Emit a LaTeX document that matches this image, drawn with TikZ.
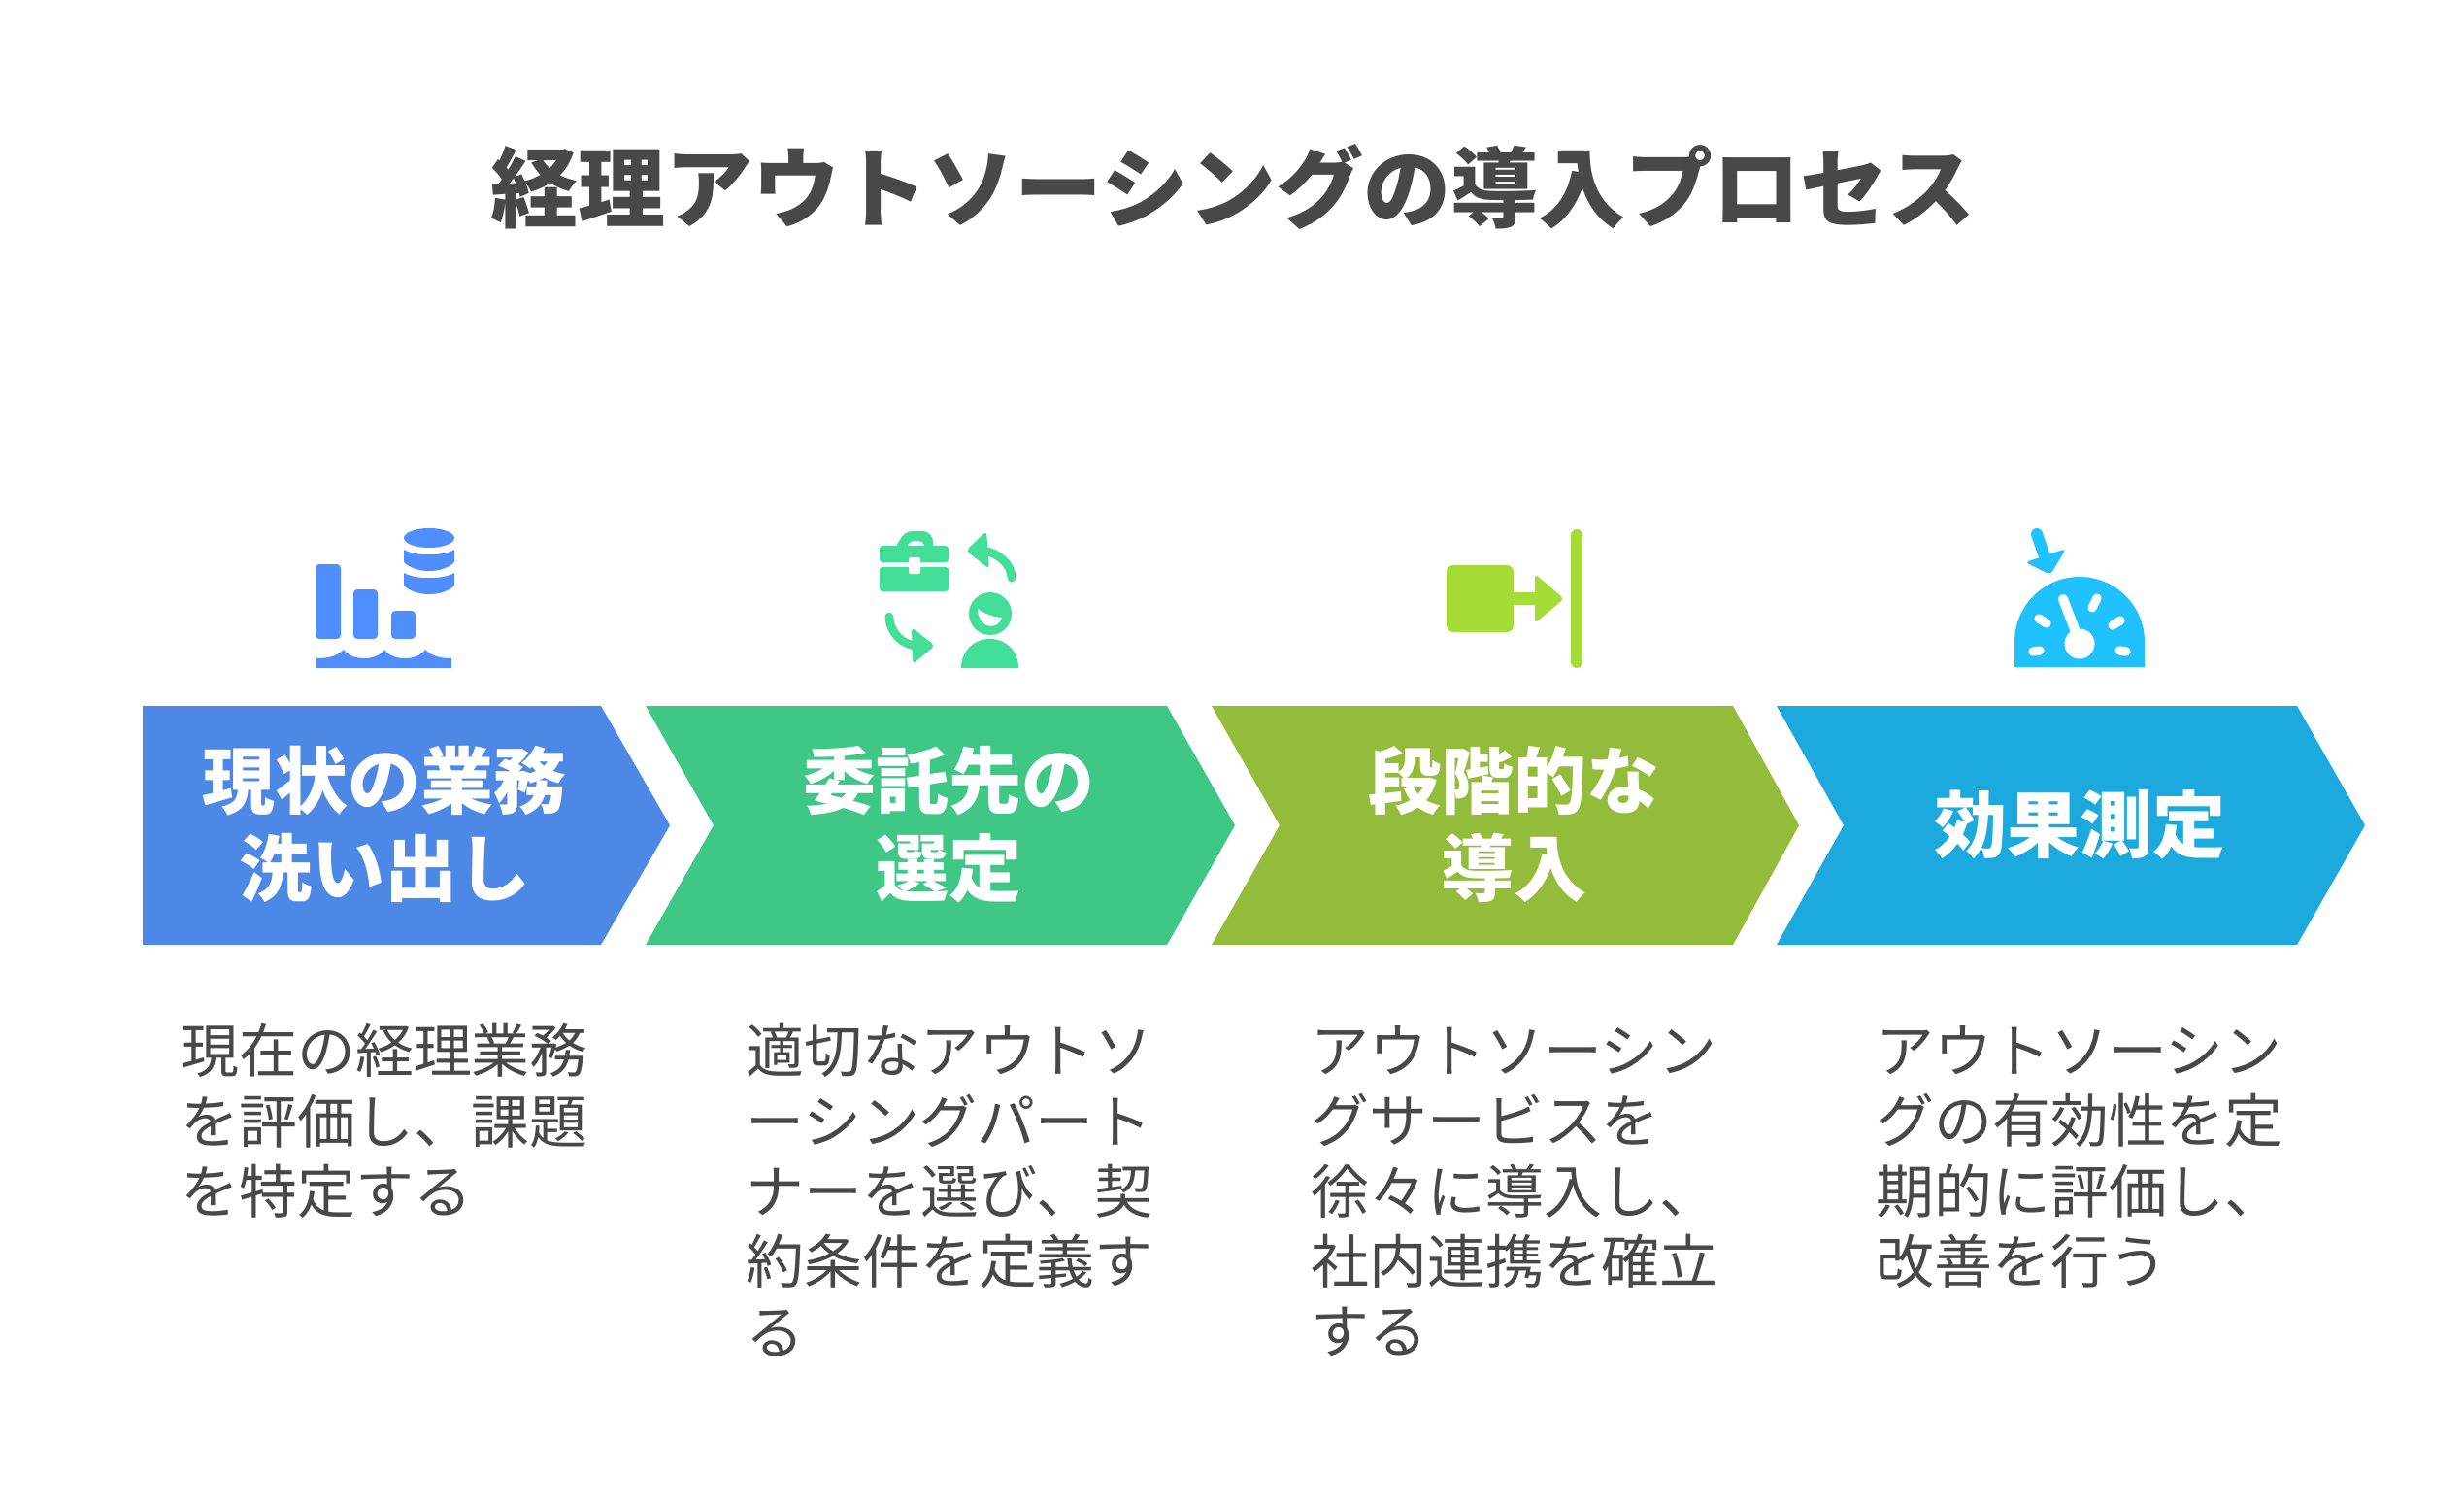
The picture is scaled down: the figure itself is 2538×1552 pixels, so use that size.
\documentclass[tikz,border=0pt]{standalone}
\usepackage{fontspec}
\setmainfont{Noto Sans CJK JP}
\definecolor{cA}{HTML}{4E88E7}\definecolor{cB}{HTML}{3EC785}\definecolor{cC}{HTML}{93BC3A}\definecolor{cD}{HTML}{1CA9DE}
\definecolor{iA}{HTML}{4E8EFF}\definecolor{iB}{HTML}{43DE97}\definecolor{iC}{HTML}{A6DC37}\definecolor{iD}{HTML}{1FC2FF}
\definecolor{tx}{HTML}{484848}
\tikzset{
 x=0.5pt,y=-0.5pt,
 titletext/.style={font=\bfseries\fontsize{45}{54}\selectfont,text=tx,inner sep=0pt},
 headtext/.style={font=\bfseries\fontsize{37.5}{45}\selectfont,text=white,align=center,inner sep=0pt},
 bodytext/.style={font=\fontsize{29.95}{36.2}\selectfont,text=tx,align=left,anchor=north west,inner sep=0pt},
 rnd/.style={rounded corners=2pt},
 arrowline/.style={line width=4.4pt,line cap=round},
 tick/.style={white,line width=4.6pt,line cap=round},
}
\newcommand{\chev}[5]{\fill[#5] (#1,727) -- (#3,727) -- (#4,850) -- (#3,973) -- (#1,973) -- (#2,850) -- cycle;}
\begin{document}
\begin{tikzpicture}
\useasboundingbox (0,0) rectangle (2538,1552);
\node[titletext] (title) at (1270,192) {経理アウトソーシングの導入プロセス};
% chevrons
\chev{147}{147}{619}{690}{cA}
\chev{665}{735}{1202}{1272}{cB}
\chev{1248}{1318}{1785}{1853}{cC}
\chev{1830}{1899}{2366}{2436}{cD}
\node[headtext] (h1) at (396,849) {現状の業務\\洗い出し};
\node[headtext] (h2) at (977,849) {委託先の\\選定};
\node[headtext] (h3) at (1559,849) {段階的な\\導入};
\node[headtext] (h4) at (2142,849) {効果測定};
\node[bodytext] (b1) at (186,1054) {現在の経理業務\\を評価し、課題\\を特定する};
\node[bodytext] (b2) at (768,1054) {適切なアウトソ\\ーシングパート\\ナーを選び、契\\約条件を定義す\\る};
\node[bodytext] (b3) at (1350,1056) {アウトソーシン\\グサービスを\\徐々に導入し、\\社内連携を確立\\する};
\node[bodytext] (b4) at (1932,1056) {アウトソーシン\\グの有効性を定\\期的に評価し、\\改善を行う};
\begin{scope}[yshift=-0.5pt]
% icon 1
\fill[iA,rnd] (325,580) rectangle (351,657);
\fill[iA,rnd] (364,606) rectangle (389,657);
\fill[iA,rnd] (403,628) rectangle (428,657);
\fill[iA] (326,687) -- (326,677) .. controls (340,677) and (348,674) .. (354,668) .. controls (362,680) and (388,680) .. (396,668) .. controls (404,680) and (430,680) .. (438,668) .. controls (444,674) and (452,677) .. (465,677) -- (465,687) -- cycle;
\fill[iA] (442,553) ellipse [x radius=26,y radius=10];
\fill[iA] (416,565) .. controls (428,572) and (456,572) .. (468,565) -- (468,578) .. controls (456,590) and (428,590) .. (416,578) -- cycle;
\fill[iA] (416,589) .. controls (428,596) and (456,596) .. (468,589) -- (468,602) .. controls (456,614) and (428,614) .. (416,602) -- cycle;
% icon 2
\fill[iB,rounded corners=1.5pt] (906,561) rectangle (977,578);
\fill[iB,rounded corners=1.5pt] (906,583) rectangle (977,608);
\fill[iB] (923,562) .. controls (928,552) and (932,546) .. (940,546) -- (950,546) .. controls (958,546) and (962,552) .. (961,562) -- (953,562) .. controls (951,558) and (949,556) .. (946,556) -- (942,556) .. controls (938,556) and (936,558) .. (934,562) -- cycle;
\fill[white,rounded corners=1pt] (936,573) rectangle (948,590);
\fill[iB,rnd] (995,566) -- (1016,546) -- (1019,585) -- cycle;
\draw[iB,arrowline] (1012,566) .. controls (1028,568) and (1042,580) .. (1042,594);
\fill[iB,rnd] (939,645) -- (963,664) -- (940,683) -- cycle;
\draw[iB,arrowline] (916,634) .. controls (916,650) and (930,664) .. (945,664);
\fill[iB] (1020,631) circle [radius=22];
\fill[white] (1007,626) .. controls (1016,632) and (1022,634) .. (1032,635) .. controls (1028,648) and (1008,648) .. (1007,626) -- cycle;
\fill[iB] (990,687) .. controls (990,670) and (1002,657) .. (1020,657) .. controls (1037,657) and (1049,670) .. (1049,687) -- cycle;
% icon 3
\fill[iC,rounded corners=3.5pt] (1490,581) rectangle (1559,650);
\fill[iC] (1555,609) rectangle (1590,622);
\fill[iC,rnd] (1581,590) -- (1611,615.5) -- (1581,641) -- cycle;
\fill[iC,rounded corners=3pt] (1618,544) rectangle (1630,687);
% icon 4
\fill[iD] (2075,686) -- (2075,660) arc[start angle=180,end angle=360,radius=67] -- (2209,686) -- cycle;
\draw[white,line width=5pt,line cap=round] (2125,616) -- (2142,660);
\fill[white] (2142,662) circle [radius=15.5];
\draw[tick] (2094,670) -- (2101,669);
\draw[tick] (2183,669) -- (2190,670);
\draw[tick] (2100,636) -- (2108,641);
\draw[tick] (2176,643) -- (2184,638);
\draw[tick] (2155,625) -- (2160,615);
\draw[iD,line width=6pt,line cap=round] (2098,549) -- (2108,578);
\fill[iD,rounded corners=2pt] (2086,578) -- (2128,564) -- (2112,591) -- cycle;
\end{scope}
\end{tikzpicture}
\end{document}
